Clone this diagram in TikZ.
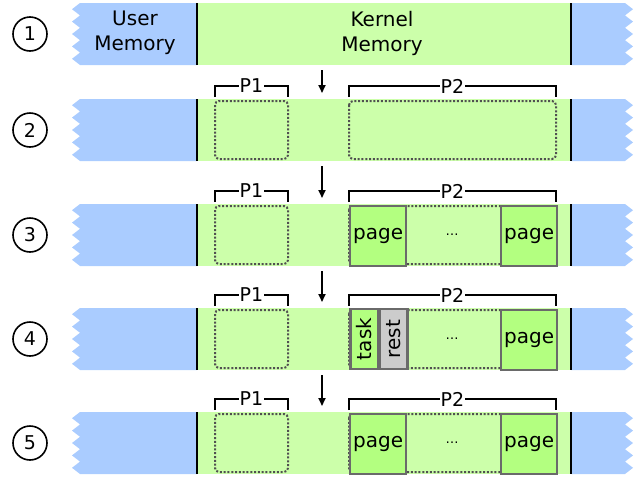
\documentclass[tikz,border=0pt]{standalone}
\usepackage{fontspec}
\setmainfont{DejaVu Sans}
\usetikzlibrary{arrows.meta}

\definecolor{usercol}{HTML}{AACCFF}
\definecolor{kerncol}{HTML}{CCFFAA}
\definecolor{pagecol}{HTML}{B3FF80}
\definecolor{restcol}{HTML}{CCCCCC}
\definecolor{boxcol}{HTML}{6A6A6A}
\definecolor{dotcol}{HTML}{505050}

\tikzset{
  usermem/.style={fill=usercol},
  kernmem/.style={fill=kerncol},
  wall/.style={line width=2.2pt,black},
  stepno/.style={circle,draw,line width=1.6pt,minimum size=34pt,inner sep=0pt,
    font=\fontsize{19}{22}\selectfont},
  memtext/.style={align=center,font=\fontsize{20}{25}\selectfont},
  region/.style={draw=dotcol,line width=2pt,dash pattern=on 2pt off 1.8pt,
    rounded corners=4pt},
  brace/.style={line width=2pt},
  plabel/.style={fill=white,inner sep=1pt,font=\fontsize{19}{22}\selectfont},
  pagebox/.style={draw=boxcol,line width=2.2pt,fill=pagecol,minimum width=56pt,
    minimum height=60pt,inner sep=0pt,font=\fontsize{20}{24}\selectfont},
  halfbox/.style={pagebox,minimum width=60pt,minimum height=28pt,rotate=90},
  dots/.style={font=\fontsize{13}{15}\selectfont},
  flow/.style={-{Triangle[length=8pt,width=7pt]},line width=1.8pt},
}

\begin{document}
\begin{tikzpicture}[x=1pt,y=-1pt]
  \useasboundingbox (0,0) rectangle (644,477);

  % the five memory rows
  \foreach \i/\t in {1/3,2/99,3/204,4/308,5/412}{
    \fill[usermem] (80,\t) \foreach \k in {0,...,4}{
        -- (72,{\t+6.2+12.4*\k}) -- (80,{\t+12.4*(\k+1)})}
      -- (197,\t+62) -- (197,\t) -- cycle;
    \fill[kernmem] (197,\t) rectangle (571,\t+62);
    \fill[usermem] (571,\t) -- (625,\t) \foreach \k in {0,...,4}{
        -- (633,{\t+6.2+12.4*\k}) -- (625,{\t+12.4*(\k+1)})}
      -- (571,\t+62) -- cycle;
    \draw[wall] (197,\t) -- (197,\t+62);
    \draw[wall] (571,\t) -- (571,\t+62);
    \node[stepno] (step\i) at (30,\t+31) {\i};
    \coordinate (top\i) at (322,\t);
    \coordinate (bot\i) at (322,\t+62);
    \ifnum\i>1
      % the two regions and their brackets
      \draw[region] (215,\t+2) rectangle (288,\t+60);
      \draw[region] (349,\t+2) rectangle (556,\t+60);
      \draw[brace] (215,\t-2) |- (288,\t-13) -- (288,\t-2);
      \draw[brace] (349,\t-2) |- (556,\t-13) -- (556,\t-2);
      \node[plabel] (pa\i) at (251.5,\t-13) {P1};
      \node[plabel] (pb\i) at (452.5,\t-13) {P2};
    \fi
    \ifnum\i>2
      \node[dots] (gap\i) at (452,\t+31) {…};
      \node[pagebox,anchor=north west] (last\i) at (500,\t+1) {page};
    \fi
  }

  \node[memtext] (user) at (135,33) {User\\Memory};
  \node[memtext] (kern) at (382,33) {Kernel\\Memory};

  \node[pagebox,anchor=north west] (first3) at (349,205) {page};
  \node[pagebox,anchor=north west] (first5) at (349,413) {page};
  \node[halfbox] (task) at (364.5,339) {task};
  \node[halfbox,fill=restcol] (rest) at (393.5,339) {rest};

  % steps
  \foreach \i/\j in {1/2,2/3,3/4,4/5}{
    \draw[flow] ([yshift=-5pt]bot\i) -- ([yshift=6pt]top\j);
  }
\end{tikzpicture}
\end{document}
